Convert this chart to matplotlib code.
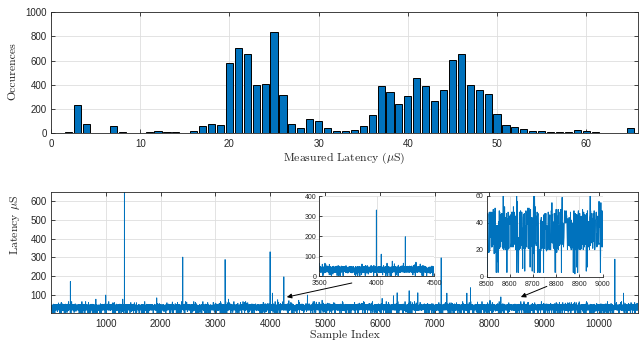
import numpy as np
import matplotlib
matplotlib.use("Agg")
import matplotlib.pyplot as plt

# Histogram of measured latency (bin centre in uS -> number of occurrences)
latency_bins = list(range(1, 66))
occurrences = [
    0, 8, 237, 75, 0, 5, 62, 12, 3, 2,
    12, 15, 8, 8, 5, 15, 60, 75, 70, 580,
    700, 650, 400, 410, 835, 315, 80, 45, 120, 105,
    47, 19, 22, 30, 60, 149, 391, 344, 245, 309,
    457, 386, 267, 355, 606, 656, 402, 358, 322, 163,
    72, 50, 33, 19, 22, 8, 8, 8, 25, 17,
    14, 6, 2, 1, 41,
]

# Isolated latency spikes in the sample trace (sample index, latency uS)
spike_index = [354, 820, 1000, 1310, 1340, 1930, 2405, 3177, 3240, 3529,
               3998, 4040, 4136, 4249, 4341, 4520, 4679, 4947, 6042, 6248,
               6316, 6535, 6693, 7119, 7223, 7588, 7653, 8010, 8208, 8985,
               10288, 10446]
spike_value = [172, 78, 100, 78, 650, 85, 302, 289, 78, 60,
               330, 110, 75, 197, 70, 72, 100, 72, 82, 96,
               112, 123, 112, 298, 110, 110, 139, 72, 90, 56,
               291, 110]

hist_xticks = [0, 10, 20, 30, 40, 50, 60]
hist_yticks = [0, 200, 400, 600, 800, 1000]
trace_xticks = [1000, 2000, 3000, 4000, 5000, 6000, 7000, 8000, 9000, 10000]
trace_yticks = [100, 200, 300, 400, 500, 600]
zoom1_xticks = [3500, 4000, 4500]
zoom1_yticks = [0, 100, 200, 300, 400]
zoom2_xticks = [8500, 8600, 8700, 8800, 8900, 9000]
zoom2_yticks = [0, 20, 40, 60]

# Sample trace: every histogram sample, placed in run order by a
# quadratic-residue key so neighbouring samples come from different bins
samples = np.repeat(np.array(latency_bins, dtype=float), occurrences)
n = samples.size
k = np.arange(n, dtype=np.int64)
key = (k * k * 104729 + k * 7919) % 1000003
trace = samples[np.argsort(key, kind="stable")]
for i, v in zip(spike_index, spike_value):
    if i - 1 < n:
        trace[i - 1] = v
sample_no = np.arange(1, n + 1)

BLUE = "#0072BD"
AX = "#262626"
GRID = "#dedede"
TICKFONT = "Liberation Sans"

plt.rcParams["mathtext.fontset"] = "cm"
label_font = dict(family="cmr10", size=8.5, color=AX)

W, H = 640, 343
fig = plt.figure(figsize=(W / 100, H / 100), dpi=100)


def style(ax, fs=7, box=True, tlen=3):
    ax.set_axisbelow(True)
    ax.grid(True, color=GRID, lw=0.6)
    ax.tick_params(direction="in", length=tlen, width=0.6, colors=AX,
                   labelsize=fs, top=box, right=box, pad=3)
    for lab in ax.get_xticklabels() + ax.get_yticklabels():
        lab.set_family(TICKFONT)
    for s in ax.spines.values():
        s.set_color(AX)
        s.set_linewidth(0.6)
    if not box:
        ax.spines["top"].set_visible(False)
        ax.spines["right"].set_visible(False)


# Top: latency histogram
ax1 = fig.add_axes([51 / W, 1 - 133.3 / H, 587 / W, 121.3 / H])
ax1.bar(latency_bins, occurrences, width=0.8, color=BLUE,
        edgecolor="black", linewidth=0.7, zorder=2)
ax1.set_xlim(0, 65.8)
ax1.set_ylim(0, 1000)
ax1.set_xticks(hist_xticks)
ax1.set_yticks(hist_yticks)
style(ax1)
ax1.tick_params(axis="x", pad=4)
ax1.set_xlabel(r"Measured Latency ($\mu$S)", labelpad=1.5, **label_font)
ax1.set_ylabel("Occurences", **label_font)
ax1.yaxis.set_label_coords(-0.058, 0.51)

# Bottom: latency per sample
ax2 = fig.add_axes([51 / W, 1 - 313.3 / H, 587 / W, 121.6 / H])
ax2.plot(sample_no, trace, color=BLUE, lw=0.6)
ax2.set_xlim(1, 10710)
ax2.set_ylim(2.7, 650)
ax2.set_xticks(trace_xticks)
ax2.set_yticks(trace_yticks)
style(ax2)
ax2.tick_params(axis="x", pad=4)
ax2.set_xlabel("Sample Index", labelpad=1, **label_font)
ax2.set_ylabel(r"Latency $\mu$S", **label_font)
ax2.yaxis.set_label_coords(-0.05, 0.725)

arrow = dict(arrowstyle="-|>", color="black", lw=0.7, mutation_scale=7,
             shrinkA=0, shrinkB=0)
ax2.annotate("", xy=(4303, 89), xytext=(5489, 164), arrowprops=arrow)
ax2.annotate("", xy=(8573, 89), xytext=(9047, 146), arrowprops=arrow)

# Zoomed views of the trace
in1 = fig.add_axes([319 / W, 1 - 276.3 / H, 115.3 / W, 80.3 / H])
in1.plot(sample_no, trace, color=BLUE, lw=0.7)
in1.set_xlim(3500, 4500)
in1.set_ylim(0, 400)
in1.set_xticks(zoom1_xticks)
in1.set_yticks(zoom1_yticks)
style(in1, fs=5, box=False, tlen=2)
in1.tick_params(axis="x", pad=3)
in1.tick_params(axis="y", pad=2)

in2 = fig.add_axes([486.5 / W, 1 - 276.5 / H, 116 / W, 80.5 / H])
in2.plot(sample_no, trace, color=BLUE, lw=0.7)
in2.set_xlim(8500, 9000)
in2.set_ylim(0, 60)
in2.set_xticks(zoom2_xticks)
in2.set_yticks(zoom2_yticks)
style(in2, fs=5, box=False, tlen=2)
in2.tick_params(axis="x", pad=3)
in2.tick_params(axis="y", pad=2)

fig.savefig("out.png", dpi=100)
